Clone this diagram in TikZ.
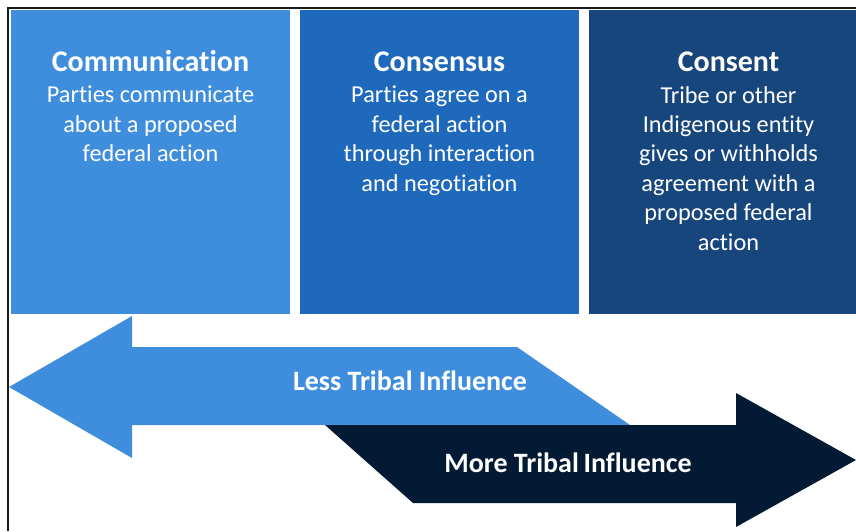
\documentclass[tikz,border=0pt]{standalone}
\usepackage{fontspec}
\setmainfont{Carlito}[Ligatures=NoCommon]
\usetikzlibrary{positioning}

\begin{document}
\begin{tikzpicture}[x=1pt, y=-1pt,
    every node/.style={inner sep=0pt, text=white},
]

% ---------------------------------------------------------------- colours
\definecolor{c1}{HTML}{3F8EDD}   % communication, and the left arrow
\definecolor{c2}{HTML}{1E69BC}   % consensus
\definecolor{c3}{HTML}{16467C}   % consent
\definecolor{c4}{HTML}{021A33}   % the right arrow
\definecolor{framecolor}{HTML}{1A1A1A}

\tikzset{
    panel/.style={minimum width=279pt, minimum height=304pt},
    heading/.style={font=\bfseries\fontsize{30}{34}\selectfont, anchor=base},
    blurb/.style={font=\fontsize{24.3}{29.4}\selectfont, align=center, anchor=north},
    arrowlabel/.style={font=\bfseries\fontsize{28}{32}\selectfont, anchor=base},
}

\useasboundingbox (0, 0) rectangle (856, 531);

% the frame only shows along the top and the left
\draw[framecolor, line width=2pt] (8, 531) -- (8, 8) -- (856, 8);

% ================================================================
% Three panels, 279 wide, 10 apart
%   x: 11 / 300 / 589,  y: 10 .. 314
% ================================================================
\node[panel, fill=c1] (p1) at (150.5, 162) {};
\node[panel, fill=c2] (p2) at (439.5, 162) {};
\node[panel, fill=c3, minimum width=267pt] (p3) at (722.5, 162) {};

\node[heading] (t1) at (150.5, 71) {Communication};
\node[blurb] (b1) at (150.5, 86) {Parties communicate\\about a proposed\\federal action};

\node[heading] (t2) at (439.5, 71) {Consensus};
\node[blurb] (b2) at (439.5, 86) {Parties agree on a\\federal action\\through interaction\\and negotiation};

\node[heading] (t3) at (728.5, 71) {Consent};
\node[blurb] (b3) at (728.5, 86) {Tribe or other\\Indigenous entity\\gives or withholds\\agreement with a\\proposed federal\\action};

% ----------------------------------------------------------------------
% the two block arrows, light one pointing left, dark one right
% ----------------------------------------------------------------------
\fill[c1] (9, 387) -- (132, 316) -- (132, 347) -- (517, 347) -- (630, 425)
    -- (132, 425) -- (132, 458) -- cycle;
\fill[c4] (325, 425) -- (736, 425) -- (736, 393) -- (856, 460) -- (736, 527)
    -- (736, 503) -- (413, 503) -- cycle;

\node[arrowlabel] (less) at (410, 390) {Less Tribal Influence};
\node[arrowlabel] (more) at (568, 472) {More Tribal\,Influence};

\end{tikzpicture}
\end{document}
